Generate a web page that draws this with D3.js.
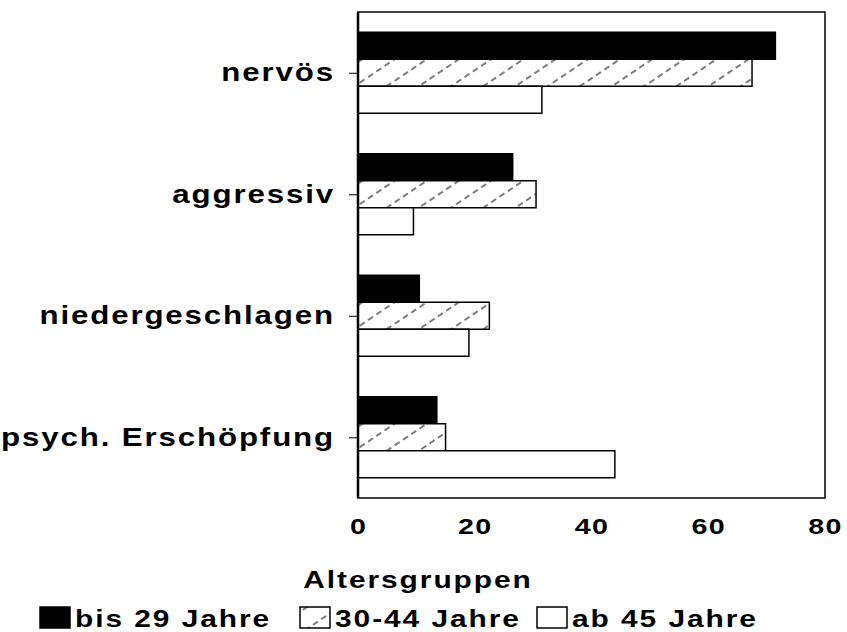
<!DOCTYPE html>
<html>
<head>
<meta charset="utf-8">
<script src="https://cdn.jsdelivr.net/npm/d3@7"></script>
<style>
    body { margin: 0; background: #fff; }
    svg { display: block; }
    .lbl { font-family: "Liberation Sans", Arial, sans-serif; font-weight: bold; font-size: 25px; letter-spacing: 1.5px; fill: #000; }
</style>
</head>
<body>
<div id="chart"></div>
<script>
// categories (top to bottom)
const categories = ["nervös", "aggressiv", "niedergeschlagen", "psych. Erschöpfung"];
// age groups
const series = ["bis 29 Jahre", "30-44 Jahre", "ab 45 Jahre"];
// values per age group, in category order
const bis29 = [71.5, 26.5, 10.5, 13.5];
const mid3044 = [67.5, 30.5, 22.5, 15];
const ab45 = [31.5, 9.5, 19, 44];
const xTicks = [0, 20, 40, 60, 80];
const legendTitle = "Altersgruppen";

const values = [bis29, mid3044, ab45];
const fills = ["#000", "url(#hatch)", "#fff"];
const stretch = 1.25; // glyphs in the scan are very wide

const width = 847, height = 632;
const margin = {top: 12, right: 22, bottom: 134, left: 358};

const svg = d3.select("#chart").append("svg")
    .attr("width", width)
    .attr("height", height);

// hatch pattern: sparse dashed diagonals
svg.append("defs").append("pattern")
    .attr("id", "hatch")
    .attr("patternUnits", "userSpaceOnUse")
    .attr("width", 10)
    .attr("height", 18)
    .attr("patternTransform", "rotate(-34)")
    .call(p => p.append("rect").attr("width", 10).attr("height", 18).attr("fill", "#fff"))
    .append("line")
    .attr("x1", 0).attr("x2", 10)
    .attr("y1", 9).attr("y2", 9)
    .attr("stroke", "#111")
    .attr("stroke-width", 1.1)
    .attr("stroke-dasharray", "6,4");

let x = d3.scaleLinear()
    .domain([0, 80])
    .range([margin.left, width - margin.right]);

let y = d3.scaleBand()
    .domain(categories)
    .range([margin.top, height - margin.bottom])
    .paddingInner(1 / 3)
    .paddingOuter(1 / 6);

let ySub = d3.scaleBand()
    .domain(series)
    .range([0, y.bandwidth()]);

// bars
let groups = svg.selectAll(".grp")
    .data(categories)
    .join("g")
    .attr("class", "grp")
    .attr("transform", d => `translate(0,${y(d)})`);

groups.selectAll("rect")
    .data((c, i) => series.map((s, j) => ({s: s, v: values[j][i], f: fills[j]})))
    .join("rect")
    .attr("x", x(0))
    .attr("y", d => ySub(d.s))
    .attr("width", d => x(d.v) - x(0))
    .attr("height", ySub.bandwidth())
    .attr("fill", d => d.f)
    .attr("stroke", "#000")
    .attr("stroke-width", 1.5);

// frame
svg.append("rect")
    .attr("x", x(0))
    .attr("y", margin.top)
    .attr("width", x(80) - x(0))
    .attr("height", height - margin.bottom - margin.top)
    .attr("fill", "none")
    .attr("stroke", "#000")
    .attr("stroke-width", 1.5);
svg.append("line")
    .attr("x1", x(0)).attr("x2", x(0))
    .attr("y1", margin.top).attr("y2", height - margin.bottom)
    .attr("stroke", "#000").attr("stroke-width", 2.5);

// y axis (category labels)
let yMid = d3.scalePoint()
    .domain(categories)
    .range([y(categories[0]) + y.bandwidth() / 2, y(categories[3]) + y.bandwidth() / 2]);

let yAxis = svg.append("g")
    .attr("transform", `translate(${x(0)},0)`)
    .call(d3.axisLeft(yMid).tickSize(9).tickSizeOuter(0));
yAxis.select(".domain").remove();
yAxis.selectAll(".tick line").attr("stroke", "#000").attr("stroke-width", 1);
yAxis.selectAll(".tick text")
    .attr("class", "lbl")
    .attr("x", 0)
    .attr("dy", null)
    .attr("y", 8)
    .attr("transform", `translate(-23,0) scale(${stretch},1)`);

// x axis
let xAxis = svg.append("g")
    .attr("transform", `translate(0,${height - margin.bottom})`)
    .call(d3.axisBottom(x).tickValues(xTicks).tickSize(0));
xAxis.select(".domain").remove();
xAxis.selectAll(".tick text")
    .attr("class", "lbl")
    .attr("y", 0)
    .attr("dy", null)
    .attr("transform", "translate(0,36) scale(1.3,1)")
    .style("font-size", "22px")
    .style("letter-spacing", "1px");

// legend title
svg.append("text")
    .attr("class", "lbl")
    .attr("text-anchor", "middle")
    .attr("transform", "translate(418,588) scale(1.3,1)")
    .style("font-size", "23px")
    .text(legendTitle);

// legend row
const legendX = [40, 300, 537];
let legend = svg.append("g");
series.forEach((s, j) => {
    legend.append("rect")
        .attr("x", legendX[j])
        .attr("y", 607)
        .attr("width", 30)
        .attr("height", 21)
        .attr("fill", fills[j])
        .attr("stroke", "#000")
        .attr("stroke-width", 1.5);
    legend.append("text")
        .attr("class", "lbl")
        .style("font-size", "23px")
        .attr("transform", `translate(${legendX[j] + 35},627) scale(1.3,1)`)
        .text(s);
});
</script>
</body>
</html>
